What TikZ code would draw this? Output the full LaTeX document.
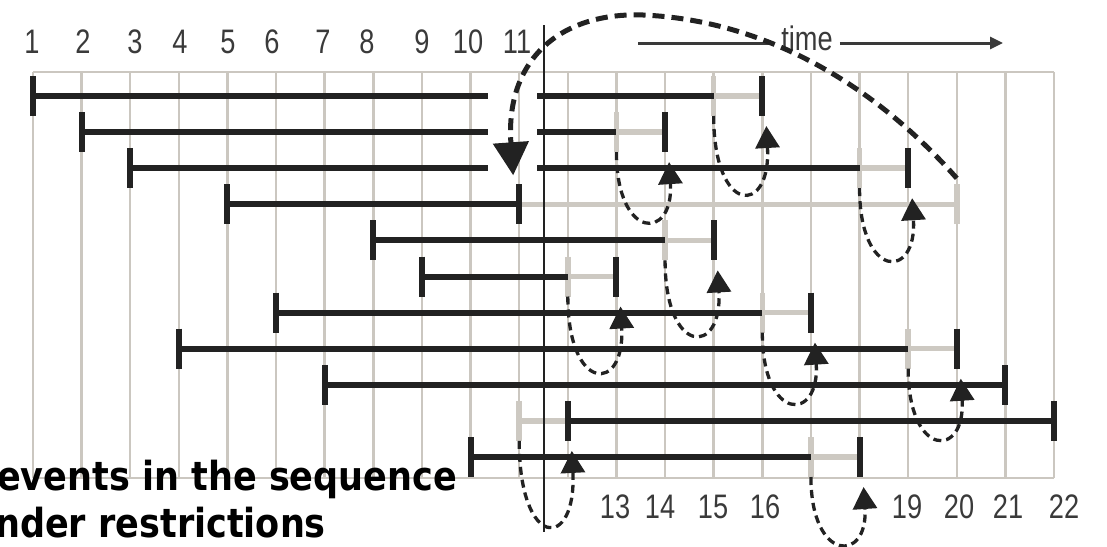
\documentclass[tikz,border=0pt]{standalone}
\usepackage{fontspec}
\usepackage{graphicx}
\usetikzlibrary{arrows.meta,calc}
\setmainfont{Liberation Sans}
\newfontfamily\numfont[FakeStretch=0.8]{Liberation Sans}
\newfontfamily\capfont[FakeStretch=0.876]{DejaVu Sans}
\definecolor{gridc}{HTML}{CBC7C0}
\definecolor{waitc}{HTML}{CDC9C2}
\definecolor{inkc}{HTML}{222222}
\definecolor{numc}{HTML}{3A3A3A}
\tikzset{
 gridline/.style={draw=gridc, line width=2.5pt},
 waitbar/.style={draw=waitc, line width=5.5pt},
 runbar/.style={draw=inkc, line width=6pt},
 nowline/.style={draw=inkc, line width=2.5pt},
 timeline/.style={draw=numc, line width=3pt},
 loopar/.style={draw=inkc, line width=3.3pt, dash pattern=on 8pt off 5pt, -{Triangle[length=22pt,width=24pt]}},
 bigar/.style={draw=inkc, line width=5pt, dash pattern=on 12pt off 7pt, -{Triangle[length=33pt,width=35pt]}},
 numlab/.style={text=numc, font=\numfont\fontsize{34}{34}\selectfont, anchor=base, inner sep=0pt},
 caplab/.style={text=black, font=\capfont\bfseries\fontsize{40}{40}\selectfont, anchor=base west, inner sep=0pt},
}
\newcommand\runseg[3]{\draw[runbar] (c#1|-r#3) -- (c#2|-r#3);}
\newcommand\waitseg[3]{\draw[waitbar] (c#1|-r#3) -- (c#2|-r#3);}
\newcommand\tickB[2]{\draw[runbar] ($(c#1|-r#2)+(0,-20)$) -- ($(c#1|-r#2)+(0,20)$);}
\newcommand\tickG[2]{\draw[waitbar] ($(c#1|-r#2)+(0,-20)$) -- ($(c#1|-r#2)+(0,20)$);}
\newcommand\waitloop[4]{\draw[loopar] ($(c#1|-r#3)+(0,20)$) .. controls +(0,#4) and +(5,#4-10) .. ($(c#2|-r#3)+(4,30)$);}
\begin{document}
\begin{tikzpicture}[x=1pt,y=-1pt]
\useasboundingbox (0,0) rectangle (1107,546);
\foreach \k in {1,...,22} \coordinate (c\k) at ({33+48.62*(\k-1)},0);
\foreach \k in {1,...,11} \coordinate (r\k) at (0,{96+36.1*(\k-1)});
\coordinate (gT) at (0,72);
\coordinate (gB) at (0,478);
\coordinate (gapL) at (488,0);
\coordinate (gapR) at (537,0);
% grid
\foreach \k in {1,...,22} \draw[gridline] (c\k|-gT) -- (c\k|-gB);
\draw[gridline] (c1|-gT) -- (c22|-gT);
\draw[gridline] (c1|-gB) -- (c22|-gB);
% waiting (gray) parts
\waitseg{15}{16}{1}\tickG{15}{1}
\waitseg{13}{14}{2}\tickG{13}{2}
\waitseg{18}{19}{3}\tickG{18}{3}
\waitseg{11}{20}{4}\tickG{20}{4}
\waitseg{14}{15}{5}\tickG{14}{5}
\waitseg{12}{13}{6}\tickG{12}{6}
\waitseg{16}{17}{7}\tickG{16}{7}
\waitseg{19}{20}{8}\tickG{19}{8}
\waitseg{11}{12}{10}\tickG{11}{10}
\waitseg{17}{18}{11}\tickG{17}{11}
% running (black) parts
\draw[runbar] (c1|-r1) -- (gapL|-r1); \draw[runbar] (gapR|-r1) -- (c15|-r1); \tickB{1}{1}\tickB{16}{1}
\draw[runbar] (c2|-r2) -- (gapL|-r2); \draw[runbar] (gapR|-r2) -- (c13|-r2); \tickB{2}{2}\tickB{14}{2}
\draw[runbar] (c3|-r3) -- (gapL|-r3); \draw[runbar] (gapR|-r3) -- (c18|-r3); \tickB{3}{3}\tickB{19}{3}
\runseg{5}{11}{4}\tickB{5}{4}\tickB{11}{4}
\runseg{8}{14}{5}\tickB{8}{5}\tickB{15}{5}
\runseg{9}{12}{6}\tickB{9}{6}\tickB{13}{6}
\runseg{6}{16}{7}\tickB{6}{7}\tickB{17}{7}
\runseg{4}{19}{8}\tickB{4}{8}\tickB{20}{8}
\runseg{7}{21}{9}\tickB{7}{9}\tickB{21}{9}
\runseg{12}{22}{10}\tickB{12}{10}\tickB{22}{10}
\runseg{10}{17}{11}\tickB{10}{11}\tickB{18}{11}
% current time line
\coordinate (nowT) at (544,25);
\coordinate (nowB) at (544,532);
\draw[nowline] (nowT) -- (nowB);
% time arrow
\coordinate (tS) at (638,43);
\coordinate (tE) at (1003,43);
\node[numlab, fill=white, inner xsep=7pt, inner ysep=2pt] (time) at (807,50) {time};
\draw[timeline] (tS) -- (tS-|time.west);
\draw[timeline,-{Triangle[length=13pt,width=12pt]}] (tS-|time.east) -- (tE);
% waiting loops
\waitloop{15}{16}{1}{100}
\waitloop{13}{14}{2}{89}
\waitloop{18}{19}{3}{92}
\waitloop{14}{15}{5}{96}
\waitloop{12}{13}{6}{97}
\waitloop{16}{17}{7}{90}
\waitloop{19}{20}{8}{90}
\waitloop{11}{12}{10}{110}
\waitloop{17}{18}{11}{86}
% big arc
\coordinate (bigS) at ($(c20|-r4)+(0,-26)$);
\coordinate (bigE) at ($(c11|-r4)+(-6,-29)$);
\coordinate (arcTop) at (643,15);
\draw[bigar] (bigS) .. controls (870,80) and (760,20) .. (arcTop) .. controls (560,12) and (505,60) .. (bigE);
% labels
\foreach \t/\x in {1/32,2/83,3/135,4/180,5/228,6/272,7/323,8/367,9/422,10/468,11/517}
  \node[numlab] (top\t) at (\x,53) {\t};
\foreach \t/\x in {13/615,14/660,15/713,16/765,19/907,20/959,21/1008,22/1064}
  \node[numlab] (bot\t) at (\x,518) {\t};
\node[caplab] (cap1) at (-3,490) {events in the sequence};
\node[caplab] (cap2) at (-5,537) {nder restrictions};
\end{tikzpicture}
\end{document}
